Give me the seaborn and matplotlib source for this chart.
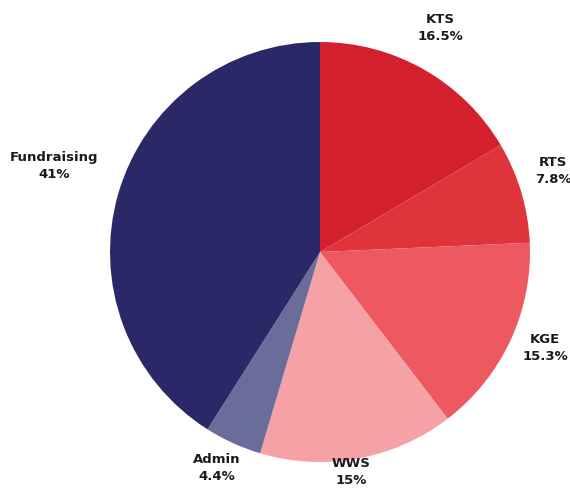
import numpy as np
import matplotlib
matplotlib.use("Agg")
import matplotlib.pyplot as plt
import seaborn as sns

# slices, clockwise from the top
categories = ["KTS", "RTS", "KGE", "WWS", "Admin", "Fundraising"]
shares = [16.5, 7.8, 15.3, 15.0, 4.4, 41.0]
share_labels = ["16.5%", "7.8%", "15.3%", "15%", "4.4%", "41%"]

colors = ["#d41f2e", "#e0343c", "#ee5961", "#f5a1a5", "#6a6d99", "#2b2868"]
# label placement: distance from centre (radius units) and small angle nudge
label_dist = [1.21, 1.175, 1.165, 1.06, 1.14, 1.33]
label_nudge = [1.5, 2.6, 1.9, -2.4, -1.0, -1.8]

sns.set_theme(style="white")
plt.rcParams["font.family"] = ["DejaVu Sans"]

fig = plt.figure(figsize=(5.7, 4.98), dpi=100)
ax = fig.add_axes([110 / 570, 36 / 498, 420 / 570, 420 / 498])

wedges, _ = ax.pie(shares, colors=colors, startangle=90, counterclock=False,
                   wedgeprops={"linewidth": 0})

for w, name, pct, d, nudge in zip(wedges, categories, share_labels, label_dist, label_nudge):
    ang = np.deg2rad((w.theta1 + w.theta2) / 2 + nudge)
    ax.text(d * np.cos(ang), d * np.sin(ang), f"{name}\n{pct}",
            ha="center", va="center", fontsize=9.5, fontweight="bold",
            color="#1a1a1a", linespacing=1.4, clip_on=False)

ax.set_xlim(-1, 1)
ax.set_ylim(-1, 1)
ax.set_aspect("equal")
ax.axis("off")

fig.savefig("out.png", dpi=100)
